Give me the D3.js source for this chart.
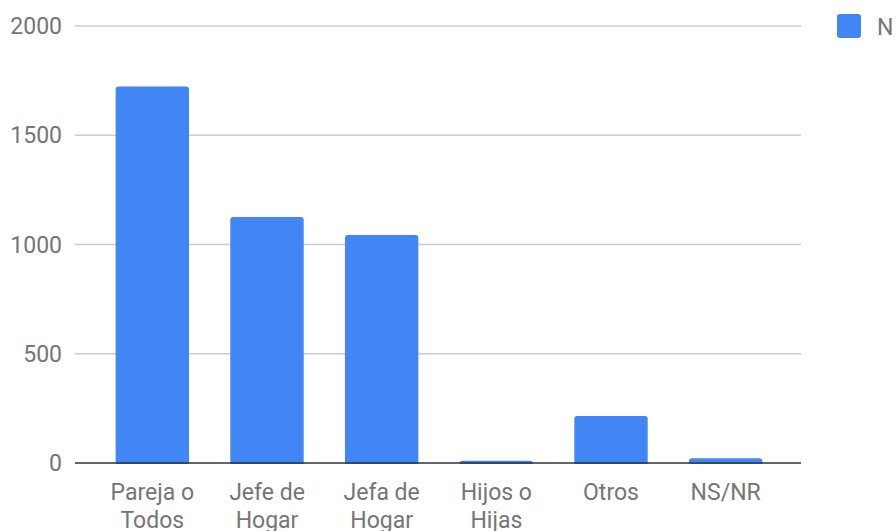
<!DOCTYPE html>
<html>
<head>
<meta charset="utf-8">
<script src="https://cdn.jsdelivr.net/npm/d3@7"></script>
<style>
  body { margin: 0; background: #fff; }
  text { font-family: Roboto, "Noto Sans", sans-serif; }
</style>
</head>
<body>
<div id="chart"></div>
<script>
// chart data
var categories = [["Pareja o", "Todos"], ["Jefe de", "Hogar"], ["Jefa de", "Hogar"], ["Hijos o", "Hijas"], ["Otros"], ["NS/NR"]];
var values = [1723, 1126, 1043, 10, 215, 22];
var yTicks = [0, 500, 1000, 1500, 2000];
var seriesName = "N";

var width = 896, height = 531;
var plotLeft = 75, plotRight = 801, plotTop = 26, plotBottom = 463;
var labelColor = "#757575";

var svg = d3.select("#chart")
    .append("svg")
    .attr("width", width)
    .attr("height", height);

var y = d3.scaleLinear()
    .domain([0, 2000])
    .range([plotBottom, plotTop]);

var x = d3.scaleBand()
    .domain(d3.range(categories.length))
    .range([95, 783])
    .paddingInner(0.36)
    .paddingOuter(0.18);

// gridlines
svg.append("g")
    .selectAll("line")
    .data(yTicks.filter(d => d > 0))
    .enter()
    .append("line")
    .attr("x1", plotLeft)
    .attr("x2", plotRight)
    .attr("y1", d => y(d))
    .attr("y2", d => y(d))
    .attr("stroke", "#cccccc")
    .attr("stroke-width", 1.5);

// y tick labels
svg.append("g")
    .selectAll("text")
    .data(yTicks)
    .enter()
    .append("text")
    .attr("x", 62)
    .attr("y", d => y(d))
    .attr("dy", "0.35em")
    .attr("text-anchor", "end")
    .attr("fill", labelColor)
    .style("font-size", "23px")
    .text(d => d);

// bars
svg.append("g")
    .selectAll("rect")
    .data(values)
    .enter()
    .append("rect")
    .attr("x", (d, i) => x(i))
    .attr("width", x.bandwidth())
    .attr("y", d => y(d))
    .attr("height", d => y(0) - y(d) + 3)
    .attr("rx", 3)
    .attr("fill", "#4285f4");

// white strip below baseline to hide rounded bar bottoms
svg.append("rect")
    .attr("x", plotLeft)
    .attr("y", y(0) + 1)
    .attr("width", plotRight - plotLeft)
    .attr("height", 4)
    .attr("fill", "#fff");

// baseline
svg.append("line")
    .attr("x1", plotLeft)
    .attr("x2", plotRight)
    .attr("y1", y(0))
    .attr("y2", y(0))
    .attr("stroke", "#333")
    .attr("stroke-width", 1.5);

// category labels
var labels = svg.append("g")
    .selectAll("text")
    .data(categories)
    .enter()
    .append("text")
    .attr("text-anchor", "middle")
    .attr("fill", labelColor)
    .style("font-size", "23px")
    .attr("transform", (d, i) => "translate(" + (x(i) + x.bandwidth() / 2) + ",500)");

labels.selectAll("tspan")
    .data(d => d)
    .enter()
    .append("tspan")
    .attr("x", 0)
    .attr("dy", (d, i) => i === 0 ? 0 : 28)
    .text(d => d);

// legend
svg.append("rect")
    .attr("x", 837)
    .attr("y", 14)
    .attr("width", 24)
    .attr("height", 24)
    .attr("rx", 3)
    .attr("fill", "#4285f4");

svg.append("text")
    .attr("x", 877)
    .attr("y", 26.5)
    .attr("dy", "0.35em")
    .attr("fill", labelColor)
    .style("font-size", "23px")
    .text(seriesName);
</script>
</body>
</html>
